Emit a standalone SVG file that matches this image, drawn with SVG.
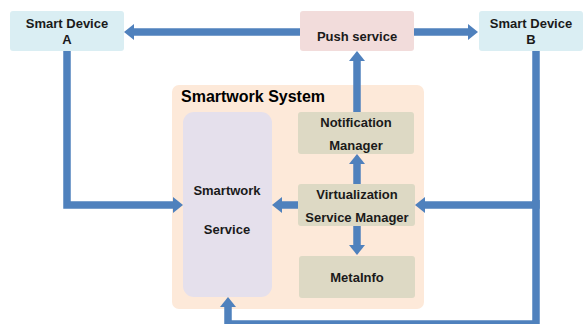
<svg xmlns="http://www.w3.org/2000/svg" width="584" height="324" viewBox="0 0 584 324">
  <style>
    .lbl { font-family: "Liberation Sans", Arial, sans-serif; font-weight: bold; font-size: 13px; fill: #1a1a1a; text-anchor: middle; }
    .title { font-family: "Liberation Sans", Arial, sans-serif; font-weight: bold; font-size: 16px; fill: #000; }
    .dev { fill: #DAEEF3; }
    .push { fill: #F2DCDB; }
    .sys { fill: #FDE9D9; }
    .svc { fill: #E5E0EC; }
    .mgr { fill: #DDD9C4; }
    .conn { fill: none; stroke: #4F81BD; stroke-width: 7.5; stroke-linejoin: miter; }
  </style>
  <defs>
    <marker id="head" viewBox="0 0 10 16" refX="2" refY="8" markerWidth="10" markerHeight="16" markerUnits="userSpaceOnUse" orient="auto">
      <path d="M0,0 L10,8 L0,16 z" fill="#4F81BD"/>
    </marker>
  </defs>

  <rect width="584" height="324" fill="#fff"/>

  <g id="smartwork-system">
    <rect class="sys" x="172" y="85" width="252" height="224" rx="7"/>
    <text class="title" x="181" y="102">Smartwork System</text>
  </g>

  <g id="smart-device-a">
    <rect class="dev" x="10" y="11" width="114" height="40" rx="3"/>
    <text class="lbl" x="67" y="28">Smart Device</text>
    <text class="lbl" x="67" y="44">A</text>
  </g>

  <g id="push-service">
    <rect class="push" x="300" y="11" width="114" height="40" rx="3"/>
    <text class="lbl" x="357" y="41">Push service</text>
  </g>

  <g id="smart-device-b">
    <rect class="dev" x="479" y="11" width="104" height="40" rx="3"/>
    <text class="lbl" x="531" y="28">Smart Device</text>
    <text class="lbl" x="531" y="44">B</text>
  </g>

  <g id="smartwork-service">
    <rect class="svc" x="183" y="112" width="89" height="185" rx="11"/>
    <text class="lbl" x="227" y="195">Smartwork</text>
    <text class="lbl" x="227" y="234">Service</text>
  </g>

  <g id="notification-manager">
    <rect class="mgr" x="298" y="112" width="116" height="42" rx="3"/>
    <text class="lbl" x="356" y="127">Notification</text>
    <text class="lbl" x="356" y="150">Manager</text>
  </g>

  <g id="virtualization-service-manager">
    <rect class="mgr" x="298" y="184" width="117" height="42" rx="3"/>
    <text class="lbl" x="357" y="199">Virtualization</text>
    <text class="lbl" x="357" y="222">Service  Manager</text>
  </g>

  <g id="metainfo">
    <rect class="mgr" x="299" y="256" width="116" height="42" rx="3"/>
    <text class="lbl" x="357" y="282">MetaInfo</text>
  </g>

  <g id="connectors">
    <!-- push service fans out to both devices -->
    <path class="conn" d="M300,32 H132" marker-end="url(#head)"/>
    <path class="conn" d="M414,32 H470" marker-end="url(#head)"/>
    <!-- device A into smartwork service -->
    <path class="conn" d="M67,51 V205 H175" marker-end="url(#head)"/>
    <!-- device B into virtualization manager -->
    <path class="conn" d="M536,51 V205 H423" marker-end="url(#head)"/>
    <!-- device B around the bottom into smartwork service -->
    <path class="conn" d="M536,200 V324 H228 V305" marker-end="url(#head)"/>
    <!-- notification manager up to push service -->
    <path class="conn" d="M357,112 V59" marker-end="url(#head)"/>
    <!-- virtualization manager outputs -->
    <path class="conn" d="M357,184 V162" marker-end="url(#head)"/>
    <path class="conn" d="M357,226 V247" marker-end="url(#head)"/>
    <path class="conn" d="M298,205 H280" marker-end="url(#head)"/>
  </g>
</svg>
